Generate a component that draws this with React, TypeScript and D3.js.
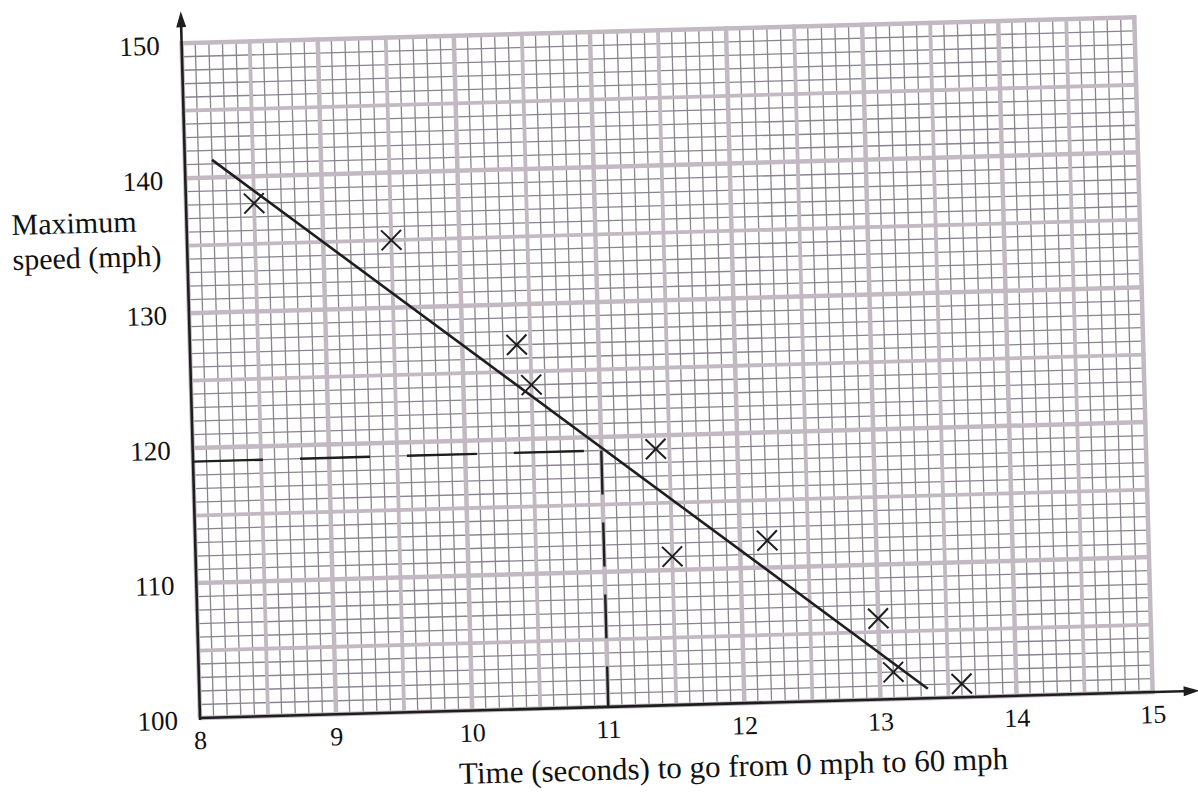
import React from "react";
import * as d3 from "d3";

// ---- data ----
const times = [8.5, 9.5, 10.4, 10.5, 11.4, 11.5, 12.2, 13.0, 13.1, 13.6];
const speeds = [138, 135, 127, 124, 119, 111, 112, 106, 102, 101];
const fitX = [8.2, 13.35];
const fitY = [141.3, 100.7];
const readX = 11;
const readY = 119;
const xTicks = [8, 9, 10, 11, 12, 13, 14, 15];
const yTicks = [100, 110, 120, 130, 140, 150];
const xTitle = "Time (seconds) to go from 0 mph to 60 mph";
const yTitle = ["Maximum", "speed (mph)"];

const W = 1198;
const H = 795;
const OX = 200;
const OY = 718;
const ANGLE = -1.56;

export default function App() {
  const xs = d3.scaleLinear().domain([8, 15]).range([0, 953]);
  const ys = d3.scaleLinear().domain([100, 150]).range([0, -675]);

  const minorX = d3.range(80, 151, 1).map((v) => v / 10);
  const majorX = d3.range(16, 31, 1).map((v) => v / 2);
  const minorY = d3.range(100, 151, 1);
  const majorY = d3.range(100, 151, 5);

  const line = d3
    .line<[number, number]>()
    .x((d) => xs(d[0]))
    .y((d) => ys(d[1]));
  const fitPts: [number, number][] = fitX.map((x, i) => [x, fitY[i]]);

  const font = "'Liberation Serif', 'Times New Roman', serif";
  const ink = "#1e1e1e";
  const cs = 10;

  return (
    <svg
      width={W}
      height={H}
      style={{ position: "absolute", left: 0, top: 0, background: "#fff" }}
    >
      <rect x={0} y={0} width={W} height={H} fill="#fff" />
      <g transform={`translate(${OX},${OY}) rotate(${ANGLE})`}>
        {/* minor grid */}
        {minorX.map((v, i) => (
          <line
            key={"mx" + i}
            x1={xs(v)}
            x2={xs(v)}
            y1={ys(100)}
            y2={ys(150)}
            stroke="#8a848d"
            strokeWidth={1.3}
          />
        ))}
        {minorY.map((v, i) => (
          <line
            key={"my" + i}
            x1={xs(8)}
            x2={xs(15)}
            y1={ys(v)}
            y2={ys(v)}
            stroke="#8a848d"
            strokeWidth={1.3}
          />
        ))}
        {/* major grid */}
        {majorX.map((v, i) => (
          <line
            key={"Mx" + i}
            x1={xs(v)}
            x2={xs(v)}
            y1={ys(100)}
            y2={ys(150) - 2}
            stroke="#c2b9c3"
            strokeWidth={Number.isInteger(v) ? 4.5 : 3.8}
          />
        ))}
        {majorY.map((v, i) => (
          <line
            key={"My" + i}
            x1={xs(8)}
            x2={xs(15) + 2}
            y1={ys(v)}
            y2={ys(v)}
            stroke="#c2b9c3"
            strokeWidth={v % 10 === 0 ? 4.5 : 3.8}
          />
        ))}

        {/* axes */}
        <line x1={-1} x2={992} y1={0} y2={0} stroke={ink} strokeWidth={2.6} />
        <path d="M 1000 0 L 984 -5 L 984 5 Z" fill={ink} />
        <line x1={0} x2={0} y1={2} y2={-698} stroke={ink} strokeWidth={2.6} />
        <path d="M 0 -707 L -5 -691 L 5 -691 Z" fill={ink} />

        {/* dashed reading lines */}
        <line
          x1={xs(8)}
          x2={xs(readX)}
          y1={ys(readY)}
          y2={ys(readY)}
          stroke={ink}
          strokeWidth={2.4}
          strokeDasharray="70,37"
        />
        <line
          x1={xs(readX)}
          x2={xs(readX)}
          y1={ys(readY)}
          y2={ys(100)}
          stroke={ink}
          strokeWidth={2.4}
          strokeDasharray="44,28"
        />

        {/* line of best fit */}
        <path d={line(fitPts) || ""} fill="none" stroke={ink} strokeWidth={2.6} />

        {/* crosses */}
        {times.map((t, i) => {
          const cx = xs(t);
          const cy = ys(speeds[i]);
          return (
            <g key={"p" + i} stroke={ink} strokeWidth={2}>
              <line x1={cx - cs} y1={cy - cs} x2={cx + cs} y2={cy + cs} />
              <line x1={cx - cs} y1={cy + cs} x2={cx + cs} y2={cy - cs} />
            </g>
          );
        })}

        {/* tick labels */}
        {xTicks.map((v) => (
          <text
            key={"xt" + v}
            x={xs(v)}
            y={31}
            textAnchor="middle"
            fontFamily={font}
            fontSize={26}
            fill="#111"
          >
            {v}
          </text>
        ))}
        {yTicks.map((v) => (
          <text
            key={"yt" + v}
            x={-22}
            y={ys(v) + 11}
            textAnchor="end"
            fontFamily={font}
            fontSize={27}
            fill="#111"
          >
            {v}
          </text>
        ))}

        {/* titles */}
        <text
          x={532}
          y={73}
          textAnchor="middle"
          fontFamily={font}
          fontSize={31}
          fill="#111"
        >
          {xTitle}
        </text>
        <text x={-175} y={-488} fontFamily={font} fontSize={30} fill="#111">
          {yTitle[0]}
        </text>
        <text x={-175} y={-453} fontFamily={font} fontSize={30} fill="#111">
          {yTitle[1]}
        </text>
      </g>
    </svg>
  );
}
